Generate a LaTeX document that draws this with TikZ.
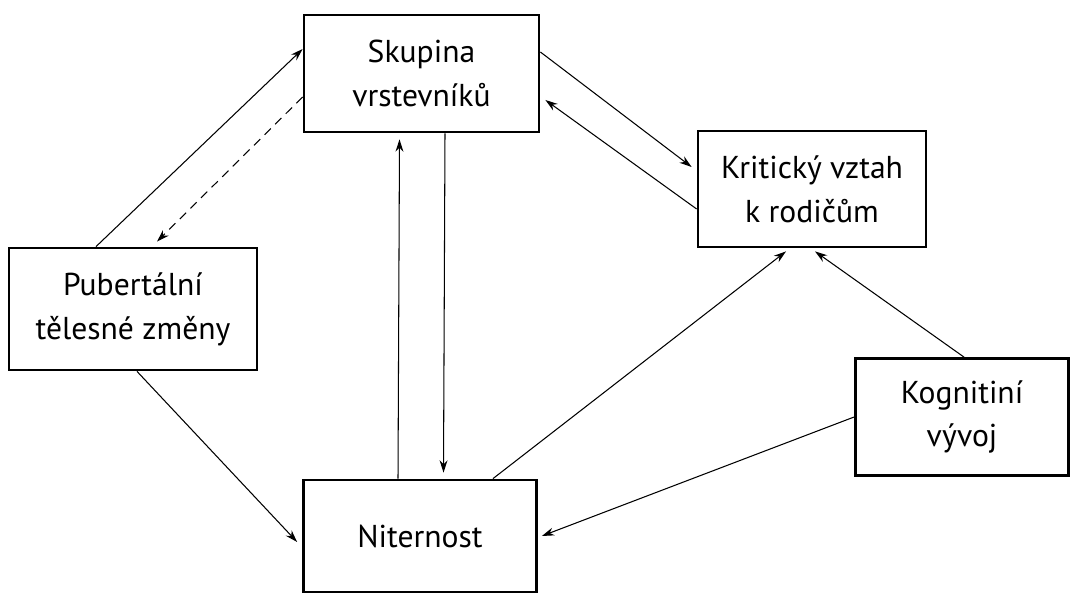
\documentclass[tikz,border=0pt]{standalone}
\usepackage{fontspec}
\setmainfont{PT Sans}
\usepackage{tikz}
\usetikzlibrary{arrows.meta}
\tikzstyle{diagram} = [x = 0.02cm, y = -0.02cm]
\tikzstyle{boxStyle} = [draw=black, line width=1.6pt, align=center, inner sep=0pt, font=\fontsize{18}{25}\selectfont]
\tikzstyle{arrowStyle} = [line width=0.6pt, -{Stealth[length=7pt, width=4.5pt]}]
\tikzstyle{dashedArrowStyle} = [arrowStyle, dash pattern=on 5pt off 3.5pt]

\begin{document}
\begin{tikzpicture}[diagram]
  \useasboundingbox (0,0) rectangle (1072,597);
  \node [boxStyle, minimum width=4.7cm, minimum height=2.34cm] (skupina) at (421.5,73.5) {Skupina\\vrstevníků};
  \node [boxStyle, minimum width=4.56cm, minimum height=2.32cm] (kriticky) at (812,189) {Kritický vztah\\k rodičům};
  \node [boxStyle, minimum width=4.96cm, minimum height=2.44cm] (pubertalni) at (133,309) {Pubertální\\tělesné změny};
  \node [boxStyle, minimum width=4.66cm, minimum height=2.24cm] (niternost) at (420,536) {Niternost};
  \node [boxStyle, minimum width=4.26cm, minimum height=2.34cm] (kognitivni) at (962,417) {Kognitiní\\vývoj};

  \draw [arrowStyle] ([xshift=-0.74cm]pubertalni.north) -- ([yshift=0.49cm]skupina.west);
  \draw [dashedArrowStyle] ([yshift=-0.47cm]skupina.west) -- ([xshift=0.48cm, yshift=0.1cm]pubertalni.north);
  \draw [arrowStyle] ([xshift=-0.44cm]niternost.north) -- ([xshift=-0.44cm, yshift=-0.12cm]skupina.south);
  \draw [arrowStyle] ([xshift=0.47cm]skupina.south) -- ([xshift=0.47cm, yshift=0.12cm]niternost.north);
  \draw [arrowStyle] ([yshift=0.43cm]skupina.east) -- ([xshift=-0.1cm, yshift=0.44cm]kriticky.west);
  \draw [arrowStyle] ([yshift=-0.4cm]kriticky.west) -- ([xshift=0.1cm, yshift=-0.53cm]skupina.east);
  \draw [arrowStyle] ([xshift=1.46cm]niternost.north) -- ([xshift=-0.52cm, yshift=-0.06cm]kriticky.south);
  \draw [arrowStyle] ([xshift=0.04cm]kognitivni.north) -- ([xshift=0.06cm, yshift=-0.06cm]kriticky.south);
  \draw [arrowStyle] (kognitivni.west) -- ([xshift=0.08cm]niternost.east);
  \draw [arrowStyle] ([xshift=0.08cm]pubertalni.south) -- ([xshift=-0.1cm, yshift=-0.12cm]niternost.west);
\end{tikzpicture}
\end{document}
